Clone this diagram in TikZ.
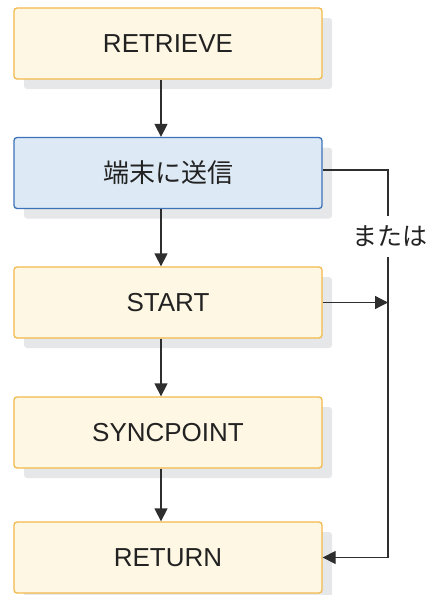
\documentclass[tikz,border=0pt]{standalone}
\usepackage{fontspec}
\setmainfont{Liberation Sans}
\newfontfamily\jpfont{Noto Sans CJK JP}
\usetikzlibrary{arrows.meta, shadows}
\definecolor{stepfill}{HTML}{FEF7E3}
\definecolor{stepline}{HTML}{F2B94C}
\definecolor{sendfill}{HTML}{DDEAF6}
\definecolor{sendline}{HTML}{3D72B8}
\definecolor{shadowgray}{HTML}{E6E7E9}
\definecolor{linkgray}{HTML}{2E2E2E}
\definecolor{inkgray}{HTML}{222222}

\tikzset{
  stepbox/.style={draw=stepline, fill=stepfill, line width=1.3pt, rounded corners=3pt,
    minimum width=308pt, minimum height=71pt, inner sep=0pt,
    font=\fontsize{26}{30}\selectfont, text=inkgray,
    drop shadow={shadow xshift=10pt, shadow yshift=-10pt, fill=shadowgray, opacity=1}},
  sendbox/.style={stepbox, draw=sendline, fill=sendfill},
  link/.style={draw=linkgray, line width=1.3pt},
  arrow/.style={link, -{Triangle[length=13pt, width=13pt]}}
}

\begin{document}
\begin{tikzpicture}[x=1pt, y=-1pt]
  \useasboundingbox (0,0) rectangle (429,595);

  \node[stepbox] (retrieve) at (168,43.5) {RETRIEVE};
  \node[sendbox] (send) at (168,173) {\jpfont 端末に送信};
  \node[stepbox] (start) at (168,302.5) {START};
  \node[stepbox] (sync) at (168,432.5) {SYNCPOINT};
  \node[stepbox] (return) at (168,557.5) {RETURN};

  \coordinate (spine) at (161,0);
  \coordinate (side) at (388,0);
  \node[font=\jpfont\fontsize{25}{30}\selectfont, text=inkgray,
        minimum height=41pt, inner sep=0pt] (either) at (390,236.5) {または};

  % main flow
  \draw[arrow] (retrieve.south -| spine) -- (send.north -| spine);
  \draw[arrow] (send.south -| spine) -- (start.north -| spine);
  \draw[arrow] (start.south -| spine) -- (sync.north -| spine);
  \draw[arrow] (sync.south -| spine) -- (return.north -| spine);

  % side path
  \draw[link] ([yshift=3pt]send.east) -| (either.north -| side);
  \draw[arrow] (either.south -| side) |- (return.east);
  \draw[arrow] (start.east) -- (start.east -| side);
\end{tikzpicture}
\end{document}
